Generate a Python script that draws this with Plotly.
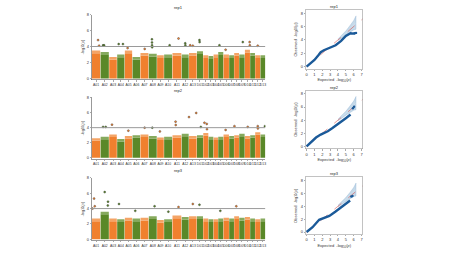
import plotly.graph_objects as go

# ---------------- data ----------------
chrom_names = ["A01","A02","A03","A04","A05","A06","A07","A08","A09","A10","A11","A12","A13",
               "D01","D02","D03","D04","D05","D06","D07","D08","D09","D10","D11","D12","D13"]
chrom_len = [117,117,108,104,104,108,113,113,95,113,126,99,108,
             86,72,68,63,72,77,68,68,77,72,68,72,68]

rep1_top = [3.5,3.3,2.7,3.0,3.5,2.7,3.2,3.1,2.9,3.0,3.2,3.0,3.2,
            3.4,2.9,2.8,3.0,3.3,3.0,2.9,3.2,3.0,3.6,3.2,2.9,2.9]
rep2_top = [2.6,2.8,3.1,2.5,2.9,3.0,3.1,2.9,2.7,2.8,3.0,3.2,2.9,
            3.0,3.3,2.8,2.7,2.8,3.1,2.9,3.0,3.2,2.9,3.0,3.4,3.1]
rep3_top = [2.7,3.6,2.7,2.6,2.8,2.7,2.8,3.0,2.5,2.6,3.1,2.9,3.0,
            3.0,2.7,2.6,2.6,2.7,2.8,2.7,3.0,2.8,2.9,2.7,2.6,2.7]

# high points: chromosome, position (Mb), -log10(p)
rep1_pts_chr = ["A01","A01","A02","A02","A04","A04","A08","A08","A08","A08","A10","A11","A12","A12",
                "A13","A13","D01","D01","D05","D09","D10","D10","D12","A05","A07","D06"]
rep1_pts_pos = [85,99,36,50,23,81,45,46,47,48,77,85,50,52,18,54,36,38,18,50,66,68,36,40,60,30]
rep1_pts_val = [4.8,4.1,4.15,4.15,4.3,4.3,4.9,4.5,4.15,3.9,4.15,5.0,4.4,4.15,
                4.15,4.1,4.8,4.55,4.15,4.55,4.55,4.15,4.1,3.8,3.7,3.6]

rep2_pts_chr = ["A02","A02","A03","A07","A08","A11","A11","A13","A13","D01","D02","D02","D02",
                "D08","D10","D12","D12","D13","A05","A09","D06"]
rep2_pts_pos = [36,72,40,59,50,45,47,2,100,55,18,49,52,5,40,36,38,61,50,40,30]
rep2_pts_val = [4.1,4.1,4.4,4.0,4.0,4.8,4.35,5.4,5.95,4.1,4.65,4.5,3.8,
                4.2,4.1,4.2,3.9,4.2,3.6,3.5,3.7]

rep3_pts_chr = ["A01","A01","A01","A02","A02","A02","A04","A08","A11","A13","D01","D08","A06","A10","D05"]
rep3_pts_pos = [31,40,10,58,103,100,27,81,85,54,36,30,40,60,30]
rep3_pts_val = [5.3,4.3,4.0,6.15,4.9,4.4,4.6,4.3,4.2,4.6,4.5,4.3,3.7,3.6,3.7]

# QQ data
qq1_exp = [0,1.0,1.5,1.8,2.2,2.9,3.7,4.4,5.0,5.6,6.0]
qq1_obs = [0,1.0,1.7,2.15,2.45,2.85,3.2,3.85,4.6,5.0,4.95]
qq1_tail_exp = [6.05,6.15,6.3]
qq1_tail_obs = [4.97,5.0,5.05]
qq2_exp = [0,0.6,1.2,1.8,2.7,3.3,4.15,5.0,5.6]
qq2_obs = [0,0.7,1.35,1.8,2.3,2.8,3.5,4.3,4.85]
qq2_tail_exp = [5.9,6.05]
qq2_tail_obs = [5.8,6.05]
qq3_exp = [0,0.76,1.6,2.0,2.9,3.7,4.6,5.4,5.55]
qq3_obs = [0,0.75,1.9,2.05,2.5,3.2,4.0,4.75,4.9]
qq3_tail_exp = [5.7,5.85]
qq3_tail_obs = [5.5,5.6]
band_exp = [4.0,4.5,5.0,5.5,6.0,6.3]
band_up = [4.15,4.7,5.35,6.1,6.9,7.6]
band_lo = [3.9,4.3,4.75,5.15,5.5,5.6]

titles = ["rep1","rep2","rep3"]
tick_vals_y = [0,2,4,6,8]

# ---------------- style ----------------
W, H = 450, 255
ORANGE = "#F0802E"
GREEN = "#5A8828"
ORANGE_L = "#F4A466"
GREEN_L = "#86AA5E"
FONT = "Liberation Sans"
FS = 4
FSX = 3.4

man_x = (92, 266)
man_rows = [(11.7, 76.7), (96.0, 157.3), (177.7, 240.0)]  # y px of value 8 and 0
qq_x = (306.5, 363.5)
qq_rows = [(7, 67), (89, 148), (177, 235)]


def ydom(top_px, bot_px):
    return [1 - bot_px / H, 1 - top_px / H]


fig = go.Figure()

starts = []
acc = 0
for L in chrom_len:
    starts.append(acc)
    acc += L
total = acc
centers = [s + L / 2 for s, L in zip(starts, chrom_len)]
cidx = {n: i for i, n in enumerate(chrom_names)}

tops = [rep1_top, rep2_top, rep3_top]
pts = [(rep1_pts_chr, rep1_pts_pos, rep1_pts_val),
       (rep2_pts_chr, rep2_pts_pos, rep2_pts_val),
       (rep3_pts_chr, rep3_pts_pos, rep3_pts_val)]

layout_axes = {}
shapes = []
annotations = []

for r in range(3):
    xa = "x" + ("" if r == 0 else str(r + 1))
    ya = "y" + ("" if r == 0 else str(r + 1))
    cols = [ORANGE if i % 2 == 0 else GREEN for i in range(26)]
    cols_l = [ORANGE_L if i % 2 == 0 else GREEN_L for i in range(26)]
    top = tops[r]
    solid = [t - 0.35 for t in top]
    widths = [L * 0.95 for L in chrom_len]
    fig.add_trace(go.Bar(x=centers, y=solid, width=widths, marker=dict(color=cols, line=dict(width=0)),
                         xaxis=xa, yaxis=ya, showlegend=False))
    fig.add_trace(go.Bar(x=centers, y=[t - s for t, s in zip(top, solid)], base=solid, width=widths,
                         marker=dict(color=cols_l, line=dict(width=0)),
                         xaxis=xa, yaxis=ya, showlegend=False))
    pc, pp, pv = pts[r]
    px = [starts[cidx[c]] + p for c, p in zip(pc, pp)]
    pcol = [GREEN if cidx[c] % 2 else ORANGE for c in pc]
    fig.add_trace(go.Scatter(x=px, y=pv, mode="markers", xaxis=xa, yaxis=ya, showlegend=False,
                             marker=dict(size=2.0, color=pcol, line=dict(width=0.4, color="#333333"))))
    shapes.append(dict(type="line", xref=xa, yref=ya, x0=0, x1=total, y0=4, y1=4,
                       line=dict(color="#9A9A9A", width=1)))
    top_px, bot_px = man_rows[r]
    pad = 0.15
    ppu = (bot_px - top_px) / 8
    layout_axes["xaxis" + ("" if r == 0 else str(r + 1))] = dict(
        domain=[man_x[0] / W, man_x[1] / W], range=[0, total], anchor=ya,
        tickvals=centers, ticktext=chrom_names, tickfont=dict(size=FSX, family=FONT, color="#333"),
        showline=True, linecolor="#555", linewidth=0.6, ticks="outside", ticklen=1.5, tickwidth=0.5,
        tickcolor="#555", showgrid=False, zeroline=False, tickangle=0)
    layout_axes["yaxis" + ("" if r == 0 else str(r + 1))] = dict(
        domain=[1 - (bot_px + pad * ppu) / H, 1 - top_px / H], range=[-pad, 8], anchor=xa,
        tickvals=tick_vals_y, tickfont=dict(size=FS, family=FONT, color="#333"),
        showline=True, linecolor="#555", linewidth=0.6, ticks="outside", ticklen=1.5, tickwidth=0.5,
        tickcolor="#555", showgrid=False, zeroline=False,
        title=dict(text="-log<sub>10</sub>(<i>p</i>)", font=dict(size=FS, family=FONT, color="#333"), standoff=2))
    annotations.append(dict(text=titles[r], x=(man_x[0] + man_x[1]) / 2 / W,
                            y=1 - (top_px - 7.5) / H, xref="paper", yref="paper", showarrow=False,
                            font=dict(size=FS, family=FONT, color="#222"), xanchor="center", yanchor="middle"))

qq_data = [(qq1_exp, qq1_obs, qq1_tail_exp, qq1_tail_obs),
           (qq2_exp, qq2_obs, qq2_tail_exp, qq2_tail_obs),
           (qq3_exp, qq3_obs, qq3_tail_exp, qq3_tail_obs)]

for r in range(3):
    n = r + 4
    xa, ya = "x%d" % n, "y%d" % n
    ex, ob, tex, tob = qq_data[r]
    fig.add_trace(go.Scatter(x=band_exp + band_exp[::-1], y=band_up + band_lo[::-1], fill="toself",
                             fillcolor="rgba(150,185,215,0.55)", line=dict(width=0.4, color="rgba(120,160,200,0.7)"),
                             mode="lines", xaxis=xa, yaxis=ya, showlegend=False))
    fig.add_trace(go.Scatter(x=band_exp, y=[(u + l) / 2 for u, l in zip(band_up, band_lo)], mode="lines",
                             line=dict(width=0.4, color="rgba(220,235,245,0.9)"), xaxis=xa, yaxis=ya, showlegend=False))
    fig.add_trace(go.Scatter(x=[0, 7.2], y=[0, 7.2], mode="lines", line=dict(color="#D9534F", width=0.6, dash="dash"),
                             xaxis=xa, yaxis=ya, showlegend=False))
    fig.add_trace(go.Scatter(x=ex, y=ob, mode="lines", line=dict(color="#1B5A99", width=2.4),
                             xaxis=xa, yaxis=ya, showlegend=False))
    fig.add_trace(go.Scatter(x=tex, y=tob, mode="markers", marker=dict(color="#1B5A99", size=2.4),
                             xaxis=xa, yaxis=ya, showlegend=False))
    t_px, b_px = qq_rows[r]
    layout_axes["xaxis%d" % n] = dict(
        domain=[qq_x[0] / W, qq_x[1] / W], range=[-0.1, 7.15], anchor=ya,
        tickvals=[0, 1, 2, 3, 4, 5, 6, 7], tickfont=dict(size=FS, family=FONT, color="#333"),
        showline=True, mirror=True, linecolor="#999", linewidth=0.6, ticks="outside", ticklen=1.5,
        tickwidth=0.5, tickcolor="#555", showgrid=False, zeroline=False,
        title=dict(text="Expected  -log<sub>10</sub>(<i>p</i>)", font=dict(size=FS, family=FONT, color="#333"), standoff=2))
    layout_axes["yaxis%d" % n] = dict(
        domain=ydom(t_px, b_px), range=[-0.35, 8.5], anchor=xa,
        tickvals=tick_vals_y, tickfont=dict(size=FS, family=FONT, color="#333"),
        showline=True, mirror=True, linecolor="#999", linewidth=0.6, ticks="outside", ticklen=1.5,
        tickwidth=0.5, tickcolor="#555", showgrid=False, zeroline=False,
        title=dict(text="Observed  -log<sub>10</sub>(<i>p</i>)", font=dict(size=FS, family=FONT, color="#333"), standoff=3))
    annotations.append(dict(text=titles[r], x=(qq_x[0] + qq_x[1]) / 2 / W, y=1 - (t_px - 3.5) / H,
                            xref="paper", yref="paper", showarrow=False,
                            font=dict(size=FS, family=FONT, color="#222"), xanchor="center", yanchor="middle"))

fig.update_layout(width=W, height=H, margin=dict(l=0, r=0, t=0, b=0), paper_bgcolor="white",
                  plot_bgcolor="white", barmode="overlay", shapes=shapes, annotations=annotations,
                  **layout_axes)

fig.write_html("out.html", config={"displayModeBar": False, "staticPlot": True},
               post_script="document.body.style.margin='0';document.body.style.overflow='hidden';")
